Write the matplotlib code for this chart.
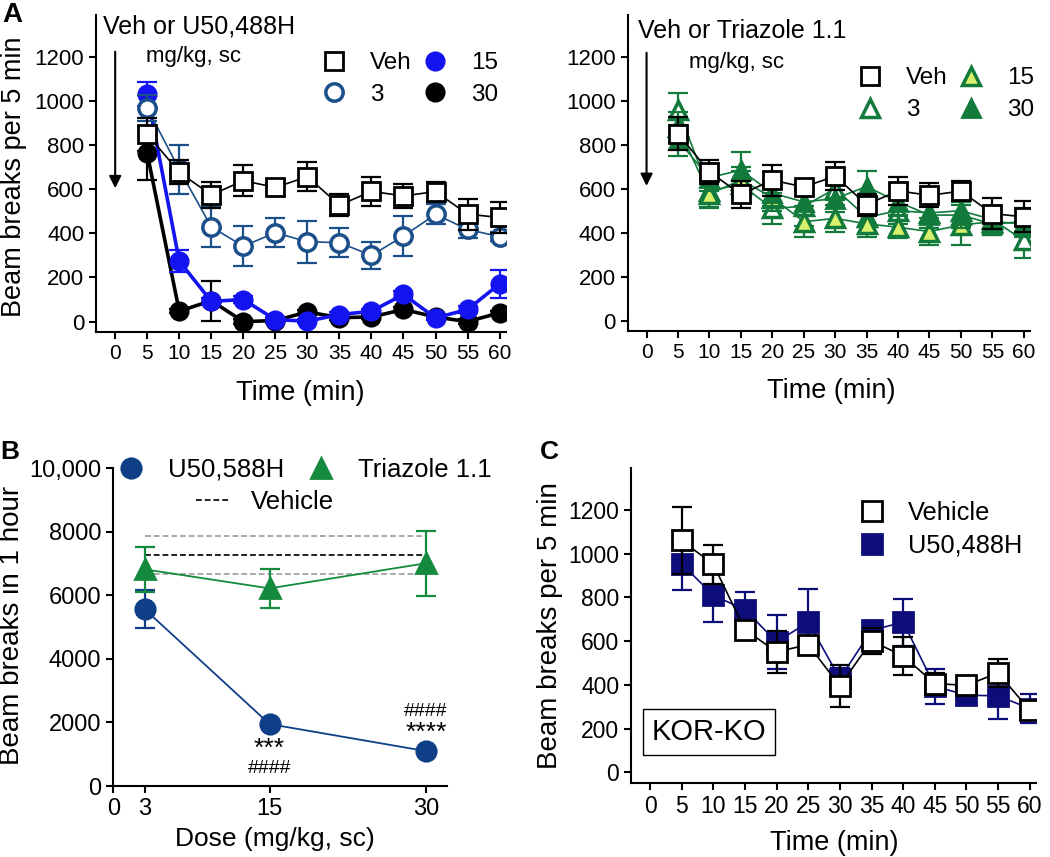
import matplotlib.pyplot as plt
from matplotlib.lines import Line2D

plt.rcParams['font.family'] = ['Liberation Sans', 'DejaVu Sans']

# ---- data ----
time = [5, 10, 15, 20, 25, 30, 35, 40, 45, 50, 55, 60]

# panel A, U50,488H (beam breaks per 5 min)
veh = [850, 677, 574, 639, 608, 657, 528, 590, 570, 589, 487, 472]
veh_err = [75, 55, 60, 70, 20, 65, 50, 65, 55, 45, 70, 70]
u3 = [968, 690, 429, 342, 403, 362, 358, 300, 388, 486, 418, 385]
u3_err = [60, 110, 90, 90, 65, 95, 65, 60, 90, 45, 40, 20]
u15 = [1032, 274, 92, 100, 9, 2, 32, 47, 123, 17, 55, 171]
u15_err = [55, 50, 15, 15, 10, 10, 10, 10, 15, 10, 15, 65]
u30 = [762, 47, 95, 0, 5, 44, 18, 21, 55, 21, 0, 40]
u30_err = [120, 10, 90, 10, 10, 10, 10, 10, 10, 10, 10, 10]

# panel A, Triazole 1.1
tz3 = [960, 590, 620, 510, 520, 600, 470, 500, 490, 500, 460, 365]
tz3_err = [75, 80, 60, 70, 90, 50, 70, 60, 70, 70, 60, 80]
tz15 = [880, 575, 640, 560, 450, 465, 440, 425, 405, 435, 450, 440]
tz15_err = [70, 60, 60, 60, 70, 60, 60, 50, 60, 90, 60, 60]
tz30 = [820, 650, 685, 580, 540, 555, 610, 540, 480, 480, 440, 450]
tz30_err = [70, 60, 80, 60, 60, 60, 70, 60, 60, 60, 50, 60]

# panel B, beam breaks in 1 hour
dose = [3, 15, 30]
b_u50 = [5570, 1950, 1100]
b_u50_err = [600, 80, 60]
b_tz = [6820, 6220, 7010]
b_tz_err = [700, 620, 1020]
b_veh = 7270
b_veh_err = 600
b_yticks = [0, 2000, 4000, 6000, 8000, 10000]
b_yticklabels = ['0', '2000', '4000', '6000', '8000', '10,000']

# panel C, KOR-KO
c_veh = [1060, 951, 652, 551, 584, 395, 601, 532, 406, 398, 455, 284]
c_veh_err = [155, 90, 40, 95, 40, 95, 60, 85, 50, 30, 65, 40]
c_u50 = [954, 809, 744, 596, 687, 429, 649, 687, 394, 353, 350, 292]
c_u50_err = [122, 120, 80, 125, 150, 50, 40, 107, 80, 40, 104, 65]

NAVY = '#1b4f8a'
BLUE = '#1414f0'
DKGREEN = '#127a3b'
LTGREEN = '#d8f06c'
B_NAVY = '#0f3f86'
B_GREEN = '#138a3d'
C_NAVY = '#0d0d7a'

fig = plt.figure(figsize=(10.5, 8.57), dpi=100)


def style(ax, xsize=15, ysize=16):
    for s in ['top', 'right']:
        ax.spines[s].set_visible(False)
    for s in ['left', 'bottom']:
        ax.spines[s].set_linewidth(1.5)
    ax.tick_params(width=1.5, length=5)
    ax.tick_params(axis='x', labelsize=xsize)
    ax.tick_params(axis='y', labelsize=ysize)


def series(ax, x, y, err, color, marker, mfc, ms, lw, z, mew=2):
    ax.errorbar(x, y, yerr=err, fmt='none', ecolor=color, elinewidth=1.6,
                capsize=7, capthick=1.6, zorder=z)
    ax.plot(x, y, color=color, lw=lw, marker=marker, ms=ms, mfc=mfc,
            mec=color, mew=mew, zorder=z + 0.5)
    return Line2D([], [], ls='none', marker=marker, ms=ms, mfc=mfc,
                  mec=color, mew=mew)


def time_axis(ax):
    ax.set_xlim(-3, 61)
    ax.set_xticks(range(0, 61, 5))
    ax.set_ylim(-47, 1390)
    ax.set_yticks(range(0, 1201, 200))


# ---------- A left ----------
axA = fig.add_axes([0.0914, 0.6126, 0.3905, 0.370])
style(axA)
time_axis(axA)
h30 = series(axA, time, u30, u30_err, 'black', 'o', 'black', 12.5, 2.6, 2)
h15 = series(axA, time, u15, u15_err, BLUE, 'o', BLUE, 12.5, 2.6, 3)
h3 = series(axA, time, u3, u3_err, NAVY, 'o', 'white', 12.5, 1.2, 4, mew=2.5)
hv = series(axA, time, veh, veh_err, 'black', 's', 'white', 13, 1.2, 5)
axA.set_xlabel('Time (min)', fontsize=19.5)
axA.xaxis.set_label_coords(0.4976, -0.15)
axA.set_ylabel('Beam breaks per 5 min', fontsize=19.5)
axA.yaxis.set_label_coords(-0.168, 0.49)
axA.annotate('', xy=(0, 592), xytext=(0, 1236),
             arrowprops=dict(arrowstyle='-|>', color='black', lw=1.5,
                             mutation_scale=18))
axA.text(-1.9, 1336, 'Veh or U50,488H', fontsize=18, va='center', ha='left')
axA.text(4.8, 1200, 'mg/kg, sc', fontsize=16, va='center', ha='left')
fig.legend(handles=[hv, h3, h15, h30], labels=['Veh', '3', '15', '30'],
           ncol=2, loc='center', bbox_to_anchor=(0.3905, 0.9078),
           frameon=False, fontsize=17.5, handlelength=1.0, handletextpad=1.0,
           columnspacing=0.45, labelspacing=0.4, borderpad=0, borderaxespad=0)

# ---------- A right ----------
axA2 = fig.add_axes([0.5978, 0.6138, 0.3832, 0.3687])
style(axA2)
time_axis(axA2)
g3 = series(axA2, time, tz3, tz3_err, DKGREEN, '^', 'white', 13, 1.2, 2, mew=2.5)
g15 = series(axA2, time, tz15, tz15_err, DKGREEN, '^', LTGREEN, 13, 1.2, 3, mew=2.5)
g30 = series(axA2, time, tz30, tz30_err, DKGREEN, '^', DKGREEN, 13, 1.2, 4)
gv = series(axA2, time, veh, veh_err, 'black', 's', 'white', 13, 1.2, 5)
axA2.set_xlabel('Time (min)', fontsize=19.5)
axA2.xaxis.set_label_coords(0.505, -0.15)
axA2.annotate('', xy=(0, 600), xytext=(0, 1231),
              arrowprops=dict(arrowstyle='-|>', color='black', lw=1.5,
                              mutation_scale=18))
axA2.text(-1.4, 1316, 'Veh or Triazole 1.1', fontsize=18, va='center', ha='left')
axA2.text(6.8, 1175, 'mg/kg, sc', fontsize=16, va='center', ha='left')
fig.legend(handles=[gv, g3, g15, g30], labels=['Veh', '3', '15', '30'],
           ncol=2, loc='center', bbox_to_anchor=(0.901, 0.890),
           frameon=False, fontsize=17.5, handlelength=1.0, handletextpad=1.0,
           columnspacing=0.45, labelspacing=0.4, borderpad=0, borderaxespad=0)

# ---------- B ----------
axB = fig.add_axes([0.1079, 0.0828, 0.3175, 0.3708])
style(axB, xsize=17, ysize=17)
axB.set_xlim(0, 32)
axB.set_ylim(0, 10000)
axB.set_xticks([0] + dose)
axB.set_yticks(b_yticks)
axB.set_yticklabels(b_yticklabels)
axB.hlines([b_veh - b_veh_err, b_veh + b_veh_err], dose[0], dose[-1],
           colors='#aaaaaa', linestyles=(0, (3, 1.5)), lw=1.4, zorder=1)
axB.hlines(b_veh, dose[0], dose[-1], colors='#222222',
           linestyles=(0, (3, 1.5)), lw=1.4, zorder=1)
bu = series(axB, dose, b_u50, b_u50_err, B_NAVY, 'o', B_NAVY, 14, 1.3, 2)
bt = series(axB, dose, b_tz, b_tz_err, B_GREEN, '^', B_GREEN, 14, 1.3, 3)
axB.text(15, 1180, '***', fontsize=19, ha='center', va='center')
axB.text(15, 557, '####', fontsize=14, ha='center', va='center')
axB.text(30, 2339, '####', fontsize=14, ha='center', va='center')
axB.text(30, 1680, '****', fontsize=19, ha='center', va='center')
axB.set_xlabel('Dose (mg/kg, sc)', fontsize=19)
axB.xaxis.set_label_coords(0.485, -0.128)
axB.set_ylabel('Beam breaks in 1 hour', fontsize=20)
axB.yaxis.set_label_coords(-0.265, 0.504)
fig.legend(handles=[bu, bt], labels=['U50,588H', 'Triazole 1.1'], ncol=2,
           loc='center', bbox_to_anchor=(0.2905, 0.4516), frameon=False,
           fontsize=18.5, handlelength=1.0, handletextpad=0.93,
           columnspacing=0.93, borderpad=0, borderaxespad=0)
fig.legend(handles=[Line2D([], [], color='#222222', ls=(0, (3, 1.5)), lw=1.4)],
           labels=['Vehicle'], loc='center', bbox_to_anchor=(0.2524, 0.4142),
           frameon=False, fontsize=18.5, handlelength=1.36,
           handletextpad=0.78, borderpad=0, borderaxespad=0)

# ---------- C ----------
axC = fig.add_axes([0.601, 0.0867, 0.3857, 0.3669])
style(axC, xsize=16.5, ysize=16.5)
time_axis(axC)
cu = series(axC, time, c_u50, c_u50_err, C_NAVY, 's', C_NAVY, 14, 1.2, 2)
cv = series(axC, time, c_veh, c_veh_err, 'black', 's', 'white', 14, 1.2, 3)
axC.set_xlabel('Time (min)', fontsize=19.5)
axC.xaxis.set_label_coords(0.501, -0.15)
axC.set_ylabel('Beam breaks per 5 min', fontsize=20)
axC.yaxis.set_label_coords(-0.168, 0.499)
axC.text(0.193, 0.161, 'KOR-KO', transform=axC.transAxes, fontsize=21,
         ha='center', va='center',
         bbox=dict(boxstyle='square,pad=0.3', fc='white', ec='black', lw=1))
fig.legend(handles=[cv, cu], labels=['Vehicle', 'U50,488H'],
           loc='center', bbox_to_anchor=(0.896, 0.3827), frameon=False,
           fontsize=18.3, handlelength=1.0, handletextpad=0.92,
           labelspacing=0.35, borderpad=0, borderaxespad=0)

# panel letters
fig.text(0.002, 0.998, 'A', fontsize=20, fontweight='bold', va='top', ha='left')
fig.text(0.0, 0.487, 'B', fontsize=19, fontweight='bold', va='top', ha='left')
fig.text(0.514, 0.487, 'C', fontsize=19, fontweight='bold', va='top', ha='left')

fig.savefig('out.png', dpi=100)
